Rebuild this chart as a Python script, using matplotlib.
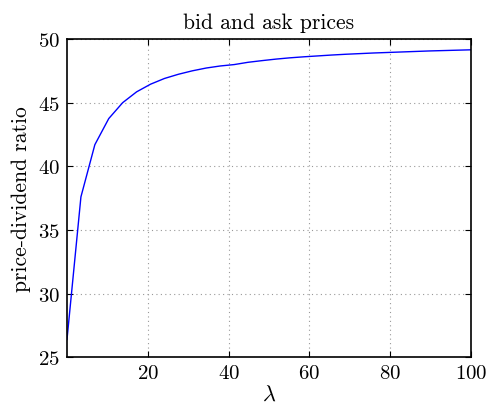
import numpy as np
import matplotlib
matplotlib.use("Agg")
import matplotlib.pyplot as plt

plt.rcParams['font.family'] = 'cmr10'
plt.rcParams['mathtext.fontset'] = 'cm'
plt.rcParams['axes.formatter.use_mathtext'] = True

# lambda grid and price-dividend ratio
lam = [0.0, 3.45, 6.90, 10.34, 13.79, 17.24, 20.69, 24.14, 27.59, 31.03,
       34.48, 37.93, 41.38, 44.83, 48.28, 51.72, 55.17, 58.62, 62.07, 65.52,
       68.97, 72.41, 75.86, 79.31, 82.76, 86.21, 89.66, 93.10, 96.55, 100.0]
ratio = [26.4, 37.6, 41.7, 43.75, 45.0, 45.85, 46.45, 46.9, 47.23, 47.5,
         47.72, 47.88, 47.99, 48.17, 48.3, 48.42, 48.52, 48.6, 48.67, 48.74,
         48.8, 48.85, 48.9, 48.94, 48.98, 49.02, 49.06, 49.09, 49.12, 49.15]
xticks = [20, 40, 60, 80, 100]
yticks = [25, 30, 35, 40, 45, 50]

fig = plt.figure(figsize=(4.89, 4.06), dpi=100)
ax = fig.add_axes([0.137, 0.1175, 0.826, 0.784])
ax.plot(lam, ratio, color='#0000ff', lw=1.0)

ax.set_xlim(0, 100)
ax.set_ylim(25, 50)
ax.set_xticks(xticks)
ax.set_yticks(yticks)
ax.tick_params(direction='in', top=True, right=True, labelsize=15, length=4, pad=5)
ax.grid(True, linestyle=(0, (1, 3)), color='0.6', lw=0.8)
for s in ax.spines.values():
    s.set_linewidth(1.2)

ax.set_title('bid and ask prices', fontsize=15.5, pad=8)
ax.set_xlabel(r'$\lambda$', fontsize=16, labelpad=1)
ax.set_ylabel('price-dividend ratio', fontsize=15.5, labelpad=5)

fig.savefig('out.png', dpi=100)
